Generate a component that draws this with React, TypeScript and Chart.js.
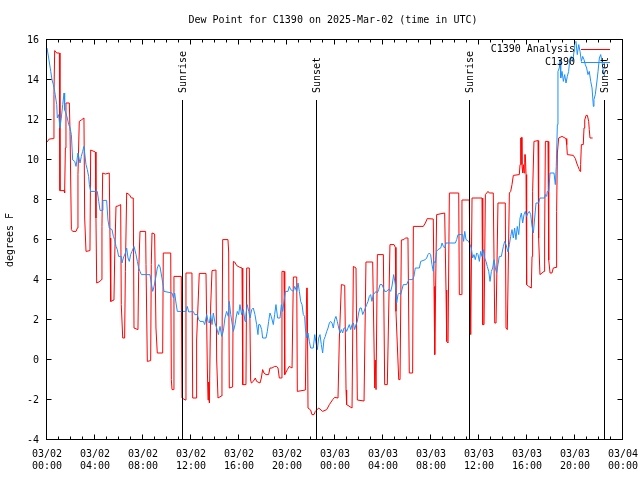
import React, { useEffect, useRef } from 'react';
import { Chart, registerables } from 'chart.js';

Chart.register(...registerables);

const TITLE = 'Dew Point for C1390 on 2025-Mar-02 (time in UTC)';
const Y_LABEL = 'degrees F';
const FONT_FAMILY = '"DejaVu Sans Mono", monospace';

const xTickDates = ['03/02', '03/02', '03/02', '03/02', '03/02', '03/02', '03/03', '03/03', '03/03', '03/03', '03/03', '03/03', '03/04'];
const xTickTimes = ['00:00', '04:00', '08:00', '12:00', '16:00', '20:00', '00:00', '04:00', '08:00', '12:00', '16:00', '20:00', '00:00'];

const Y_MIN = -4;
const Y_MAX = 16;
const Y_STEP = 2;
const X_MAX_HOURS = 48;

const eventHours = [11.37, 22.53, 35.28, 46.5];
const eventLabels = ['Sunrise', 'Sunset', 'Sunrise', 'Sunset'];

const ANALYSIS_LABEL = 'C1390 Analysis';
const STATION_LABEL = 'C1390';

// [hours since 03/02 00:00 UTC, dew point F]
const analysisSeries: [number, number][] = [
  [0, 10.9], [0.19, 11.05], [0.53, 11.07], [0.58, 13.27], [0.64, 15.47], [0.81, 15.35], [1.03, 15.35],
  [1.08, 8.47], [1.42, 8.47], [1.47, 8.35], [1.53, 10.6], [1.58, 12.85], [1.86, 12.85], [1.92, 11.43],
  [2.03, 6.52], [2.14, 6.43], [2.42, 6.43], [2.53, 6.6], [2.58, 9.27], [2.69, 11.93], [2.86, 12.0],
  [3.08, 12.1], [3.14, 7.1], [3.25, 5.43], [3.58, 5.47], [3.64, 10.5], [4.03, 10.4], [4.08, 7.1],
  [4.14, 3.85], [4.42, 3.93], [4.53, 4.02], [4.58, 6.68], [4.64, 9.35], [4.86, 9.3], [5.19, 9.35],
  [5.25, 6.1], [5.31, 2.93], [5.58, 3.0], [5.64, 5.1], [5.75, 7.68], [5.92, 7.7], [6.14, 7.77],
  [6.19, 2.77], [6.31, 1.1], [6.47, 1.1], [6.53, 4.43], [6.64, 8.35], [6.86, 8.27], [7.03, 8.1],
  [7.19, 8.1], [7.25, 1.6], [7.58, 1.52], [7.64, 4.43], [7.75, 6.43], [8.22, 6.43], [8.25, 4.77],
  [8.36, -0.07], [8.64, -0.03], [8.69, 4.77], [8.75, 6.35], [8.97, 6.3], [9.08, 1.6], [9.19, 0.35],
  [9.64, 0.35], [9.69, 5.35], [10.31, 5.35], [10.36, -0.98], [10.42, -1.48], [10.53, -1.48],
  [10.58, 4.18], [11.19, 4.18], [11.25, -1.9], [11.53, -2.0], [11.58, 4.35], [12.08, 4.35],
  [12.14, -1.9], [12.42, -1.9], [12.47, 1.0], [12.69, 4.33], [13.25, 4.33], [13.36, -0.4],
  [13.42, -2.0], [13.47, -1.1], [13.53, -2.15], [13.64, 2.7], [13.75, 4.47], [14.08, 4.5],
  [14.14, 0], [14.25, -1.9], [14.53, -1.8], [14.58, 0.1], [14.64, 6.02], [15.08, 6.02], [15.14, 5.4],
  [15.19, -1.4], [15.47, -1.35], [15.53, 4.93], [15.64, 4.9], [15.81, 4.72], [16.08, 4.63],
  [16.25, 4.6], [16.31, -1.23], [16.58, -1.23], [16.64, 4.6], [16.86, 4.6], [16.97, -1.0],
  [17.03, -1.15], [17.19, -1.07], [17.36, -0.9], [17.47, -1.07], [17.75, -1.15], [17.86, -0.9],
  [17.97, -0.48], [18.08, -0.65], [18.25, -0.73], [18.47, -0.73], [18.58, -0.4], [18.75, -0.4],
  [18.97, -0.32], [19.14, -0.32], [19.25, -0.4], [19.36, -0.9], [19.53, -0.9], [19.58, 4.43],
  [19.75, 4.43], [19.81, -0.73], [20.03, -0.48], [20.19, -0.32], [20.42, -0.4], [20.53, 4.15],
  [20.81, 4.15], [20.86, -1.57], [21.53, -1.5], [21.64, 3.6], [21.69, 3.6], [21.75, -2.4],
  [21.97, -2.5], [22.08, -2.73], [22.25, -2.73], [22.36, -2.57], [22.64, -2.4], [22.97, -2.57],
  [23.31, -2.48], [23.53, -2.23], [23.81, -1.98], [23.97, -1.87], [24.25, -1.9], [24.36, 1.0],
  [24.53, 3.77], [24.81, 3.73], [24.92, -1.5], [24.97, -2.23], [25.42, -2.4], [25.53, 4.68],
  [25.75, 4.6], [25.86, -2.0], [26.42, -2.05], [26.58, 4.9], [27.14, 4.9], [27.31, -1.4],
  [27.36, 0.0], [27.42, -1.48], [27.53, 5.27], [28.03, 5.27], [28.14, -1.23], [28.36, -1.23],
  [28.58, 5.77], [28.92, 5.77], [29.03, 5.63], [29.08, 2.43], [29.31, -0.98], [29.42, -0.98],
  [29.53, 6.0], [29.75, 6.02], [29.86, 6.1], [30.08, 6.1], [30.19, -0.65], [30.47, -0.65],
  [30.53, 6.68], [31.36, 6.68], [31.53, 6.85], [31.69, 7.07], [32.19, 7.05], [32.25, 3.68],
  [32.31, 0.27], [32.36, 2.5], [32.47, 7.27], [33.14, 7.35], [33.25, 3.5], [33.31, 0.93],
  [33.42, 0.85], [33.53, 8.35], [34.31, 8.35], [34.36, 3.27], [34.53, 3.27], [34.58, 8.0],
  [35.19, 8.0], [35.31, 1.27], [35.42, 8.1], [36.25, 8.1], [36.31, 1.77], [36.42, 1.77],
  [36.53, 8.27], [36.75, 8.43], [36.86, 8.35], [37.19, 8.35], [37.31, 1.85], [37.42, 1.85],
  [37.58, 7.85], [38.19, 7.85], [38.25, 1.6], [38.36, 1.52], [38.53, 8.35], [38.64, 8.43],
  [38.75, 8.77], [38.86, 9.23], [39.36, 9.27], [39.42, 9.77], [39.47, 11.1], [39.53, 11.13],
  [39.58, 9.77], [39.64, 9.35], [39.69, 9.77], [39.75, 9.35], [39.81, 10.27], [39.86, 10.27],
  [39.92, 9.27], [39.97, 3.77], [40.14, 3.68], [40.36, 3.6], [40.42, 5.18], [40.47, 8.43],
  [40.58, 10.93], [40.92, 10.97], [40.97, 6.1], [41.08, 4.27], [41.42, 4.43], [41.47, 6.1],
  [41.53, 10.93], [41.75, 10.93], [41.81, 5.0], [41.92, 4.35], [42.08, 4.35], [42.19, 4.6],
  [42.42, 4.63], [42.47, 7.43], [42.53, 10.35], [42.64, 11.1], [42.92, 11.18], [43.25, 11.07],
  [43.31, 10.77], [43.36, 10.27], [43.86, 10.23], [44.03, 10.07], [44.14, 9.85], [44.25, 9.68],
  [44.36, 9.52], [44.42, 9.43], [44.47, 9.77], [44.53, 10.77], [44.69, 10.77], [44.75, 11.6],
  [44.81, 12.0], [44.92, 12.23], [45.03, 12.23], [45.14, 11.93], [45.19, 11.52], [45.25, 11.1],
  [45.47, 11.1],
];

const stationSeries: [number, number][] = [
  [0, 15.6], [0.14, 15.1], [0.31, 14.43], [0.42, 14.0], [0.53, 13.77], [0.64, 13.43], [0.81, 12.77],
  [0.86, 12.1], [0.97, 12.27], [1.08, 11.6], [1.19, 12.1], [1.31, 12.77], [1.42, 13.35], [1.47, 12.5],
  [1.58, 12.35], [1.69, 12.1], [1.81, 11.77], [1.92, 11.6], [2.03, 11.27], [2.14, 10.0], [2.31, 9.93],
  [2.42, 9.68], [2.58, 10.35], [2.75, 9.85], [2.86, 10.18], [2.97, 10.43], [3.08, 10.68], [3.14, 10.35],
  [3.25, 9.77], [3.36, 9.52], [3.47, 9.18], [3.53, 8.77], [3.64, 8.43], [4.19, 8.43], [4.31, 7.93],
  [4.42, 7.48], [4.64, 7.48], [4.66, 7.98], [4.97, 7.98], [5.08, 7.0], [5.19, 6.6], [5.42, 6.52],
  [5.53, 6.18], [5.64, 6.02], [5.75, 5.68], [5.86, 5.52], [5.97, 5.18], [6.19, 5.18], [6.25, 4.85],
  [6.36, 5.1], [6.53, 5.35], [6.64, 5.6], [6.75, 5.1], [6.86, 4.93], [6.97, 5.27], [7.08, 5.43],
  [7.25, 5.68], [7.42, 5.27], [7.53, 4.93], [7.64, 4.6], [7.75, 4.43], [7.86, 4.27], [8.58, 4.27],
  [8.69, 3.85], [8.81, 3.43], [8.92, 3.68], [9.08, 4.18], [9.19, 4.6], [9.31, 4.77], [9.42, 4.65],
  [9.58, 4.1], [9.69, 3.68], [9.75, 3.43], [10.42, 3.35], [10.53, 3.1], [10.64, 3.35], [10.75, 2.85],
  [10.86, 2.43], [11.58, 2.43], [11.69, 2.68], [11.81, 2.4], [12.19, 2.43], [12.31, 2.27], [12.53, 2.27],
  [12.64, 2.02], [12.75, 1.93], [13.03, 1.93], [13.14, 1.77], [13.31, 2.27], [13.42, 1.93], [13.53, 1.85],
  [13.64, 2.27], [13.75, 1.77], [13.86, 2.35], [14.0, 1.85], [14.14, 1.6], [14.28, 1.27], [14.42, 1.68],
  [14.56, 1.18], [14.69, 1.43], [14.83, 2.1], [14.97, 2.43], [15.11, 2.18], [15.19, 2.93], [15.31, 2.27],
  [15.42, 1.85], [15.53, 1.43], [15.67, 1.77], [15.75, 2.1], [15.86, 2.43], [15.97, 2.27], [16.08, 2.77],
  [16.22, 2.27], [16.36, 2.52], [16.5, 1.93], [16.58, 2.27], [16.69, 2.77], [16.81, 2.43], [16.92, 2.1],
  [17.06, 2.52], [17.19, 2.6], [17.33, 2.27], [17.47, 1.77], [17.58, 1.27], [17.64, 1.77], [17.75, 1.77],
  [17.89, 1.52], [17.97, 1.1], [18.25, 1.1], [18.36, 1.43], [18.47, 1.93], [18.58, 2.35], [18.69, 2.18],
  [18.86, 1.77], [18.97, 2.27], [19.08, 2.77], [19.22, 2.1], [19.42, 2.1], [19.53, 2.77], [19.64, 2.43],
  [19.75, 2.93], [19.86, 3.43], [20.08, 3.43], [20.19, 3.68], [20.31, 3.52], [20.53, 3.43], [20.64, 3.68],
  [20.81, 3.43], [20.92, 3.85], [21.03, 3.43], [21.14, 2.93], [21.25, 2.77], [21.36, 2.27], [21.47, 2.18],
  [21.53, 1.6], [21.64, 1.1], [21.75, 1.35], [21.86, 0.93], [21.97, 0.6], [22.19, 0.6], [22.31, 1.27],
  [22.42, 0.85], [22.53, 0.52], [22.64, 1.1], [22.75, 1.27], [22.86, 0.77], [22.97, 0.35], [23.08, 1.02],
  [23.19, 1.18], [23.31, 1.43], [23.42, 1.6], [23.53, 1.85], [23.64, 1.93], [23.75, 1.85], [23.86, 1.6],
  [23.97, 2.02], [24.08, 2.18], [24.19, 1.93], [24.31, 1.6], [24.42, 1.35], [24.53, 1.52], [24.64, 1.35],
  [24.75, 1.6], [24.86, 1.6], [24.97, 1.43], [25.08, 1.6], [25.19, 1.77], [25.31, 1.52], [25.42, 1.77],
  [25.53, 1.85], [25.64, 1.52], [25.75, 1.77], [25.86, 1.93], [25.97, 2.35], [26.08, 2.6], [26.19, 2.6],
  [26.31, 2.27], [26.42, 2.43], [26.53, 2.6], [26.64, 2.77], [26.75, 2.93], [26.86, 3.18], [26.97, 3.27],
  [27.08, 2.93], [27.19, 3.27], [27.31, 3.35], [27.42, 3.43], [27.53, 3.35], [27.64, 3.52], [27.75, 3.77],
  [27.92, 3.77], [28.03, 3.6], [28.14, 3.43], [28.31, 3.43], [28.42, 3.52], [28.53, 3.52], [28.64, 3.43],
  [28.75, 3.7], [28.89, 4.27], [29.03, 3.77], [29.14, 2.85], [29.25, 3.27], [29.36, 3.35], [29.47, 3.27],
  [29.58, 3.52], [29.69, 3.77], [29.97, 3.77], [30.08, 3.93], [30.19, 4.02], [30.47, 4.02], [30.58, 4.18],
  [30.69, 4.6], [31.03, 4.6], [31.14, 4.93], [31.53, 5.02], [31.64, 5.1], [31.75, 5.27], [31.86, 5.35],
  [31.97, 5.27], [32.08, 4.77], [32.19, 4.43], [32.25, 4.93], [32.36, 4.85], [32.47, 5.43], [32.58, 5.52],
  [32.81, 5.6], [32.92, 5.85], [33.03, 5.68], [33.14, 5.6], [33.25, 5.85], [34.03, 5.85], [34.14, 6.02],
  [34.25, 6.27], [34.64, 6.27], [34.72, 5.93], [34.81, 6.43], [34.92, 6.02], [35.14, 5.93], [35.25, 5.77],
  [35.36, 5.6], [35.47, 5.1], [35.58, 5.27], [35.69, 5.02], [35.81, 5.35], [35.92, 5.27], [36.03, 4.93],
  [36.14, 5.43], [36.25, 5.18], [36.36, 5.52], [36.47, 5.1], [36.58, 4.93], [36.69, 4.68], [36.81, 4.43],
  [36.92, 3.93], [37.03, 4.43], [37.14, 4.6], [37.25, 5.02], [37.36, 4.6], [37.47, 4.35], [37.58, 4.77],
  [37.69, 5.18], [37.86, 5.18], [38.03, 5.68], [38.14, 5.93], [38.25, 5.77], [38.42, 5.4], [38.53, 5.77],
  [38.64, 6.18], [38.75, 6.52], [38.86, 6.1], [38.97, 6.6], [39.08, 6.02], [39.19, 6.68], [39.31, 6.27],
  [39.42, 7.1], [39.53, 7.35], [39.64, 6.85], [39.75, 7.27], [39.86, 7.43], [39.97, 7.18], [40.08, 7.35],
  [40.19, 7.43], [40.31, 7.27], [40.42, 6.68], [40.53, 6.35], [40.64, 7.1], [40.75, 7.85], [40.97, 7.85],
  [41.08, 8.1], [41.47, 8.1], [41.53, 8.27], [41.64, 8.18], [41.69, 8.43], [41.81, 8.43], [41.92, 9.35],
  [42.25, 9.35], [42.36, 8.77], [42.44, 9.68], [42.53, 11.77], [42.58, 14.43], [42.69, 14.6], [42.75, 15.02],
  [42.81, 14.1], [42.92, 14.43], [43.03, 13.93], [43.14, 14.27], [43.25, 13.85], [43.36, 14.18], [43.47, 14.43],
  [43.58, 15.1], [43.69, 15.18], [43.81, 14.93], [43.92, 15.43], [43.97, 15.85], [44.08, 15.93], [44.19, 15.27],
  [44.31, 15.77], [44.42, 15.43], [44.53, 14.93], [44.64, 15.18], [44.75, 15.02], [44.86, 14.77], [44.97, 14.6],
  [45.08, 14.27], [45.19, 14.43], [45.31, 13.93], [45.42, 13.6], [45.53, 12.68], [45.58, 13.02], [45.69, 13.27],
  [45.81, 13.85], [45.92, 14.43], [46.03, 15.1], [46.14, 15.27], [46.25, 14.93], [46.36, 14.43], [46.47, 14.18],
];

const RED = '#ff0000';
const BLUE = '#1e90ff';

const font = (size: number) => `${size}px ${FONT_FAMILY}`;

const decorPlugin = {
  id: 'gnuplotDecor',
  afterDatasetsDraw(chart: any) {
    const { ctx, chartArea: a, scales } = chart;
    const xs = scales.x;
    const ys = scales.y;
    ctx.save();
    ctx.strokeStyle = '#000';
    ctx.fillStyle = '#000';
    ctx.lineWidth = 1;

    // sunrise / sunset markers
    ctx.font = font(10);
    eventHours.forEach((h, i) => {
      const px = Math.round(xs.getPixelForValue(h)) - 0.5;
      ctx.beginPath();
      ctx.moveTo(px, a.top + 60);
      ctx.lineTo(px, a.bottom);
      ctx.stroke();
      ctx.save();
      ctx.translate(px + 1, a.top + 53);
      ctx.rotate(-Math.PI / 2);
      ctx.textAlign = 'left';
      ctx.textBaseline = 'middle';
      ctx.fillText(eventLabels[i], 0, 0);
      ctx.restore();
    });

    // frame
    ctx.strokeRect(a.left - 0.5, a.top - 0.5, a.right - a.left, a.bottom - a.top);

    // x ticks (hourly minor, 4-hourly major), bottom and top
    ctx.beginPath();
    for (let h = 0; h <= X_MAX_HOURS; h++) {
      const px = Math.round(xs.getPixelForValue(h)) - 0.5;
      const len = h % 4 === 0 ? 5 : 3;
      ctx.moveTo(px, a.bottom - 0.5);
      ctx.lineTo(px, a.bottom - 0.5 - len);
      ctx.moveTo(px, a.top - 0.5);
      ctx.lineTo(px, a.top - 0.5 + len);
    }
    // y ticks, left and right
    for (let v = Y_MIN; v <= Y_MAX; v += Y_STEP) {
      const py = Math.round(ys.getPixelForValue(v)) - 0.5;
      ctx.moveTo(a.left - 0.5, py);
      ctx.lineTo(a.left - 0.5 + 5, py);
      ctx.moveTo(a.right - 0.5, py);
      ctx.lineTo(a.right - 0.5 - 5, py);
    }
    ctx.stroke();

    // legend (top right, inside plot)
    const textRight = a.right - 48;
    const lineStart = a.right - 42;
    const lineEnd = a.right - 13;
    chart.data.datasets.forEach((ds: any, i: number) => {
      const yRow = a.top + 9.5 + i * 13;
      ctx.fillStyle = '#000';
      ctx.textAlign = 'right';
      ctx.textBaseline = 'middle';
      ctx.font = font(10);
      ctx.fillText(ds.label, textRight, yRow);
      ctx.strokeStyle = ds.borderColor;
      ctx.beginPath();
      ctx.moveTo(lineStart, yRow);
      ctx.lineTo(lineEnd, yRow);
      ctx.stroke();
    });

    // title and y axis label
    ctx.fillStyle = '#000';
    ctx.font = font(10);
    ctx.textAlign = 'center';
    ctx.textBaseline = 'middle';
    ctx.fillText(TITLE, 333, 20);
    ctx.save();
    ctx.translate(10, (a.top + a.bottom) / 2);
    ctx.rotate(-Math.PI / 2);
    ctx.fillText(Y_LABEL, 0, 0);
    ctx.restore();

    ctx.restore();
  },
};

export default function App() {
  const canvasRef = useRef<HTMLCanvasElement | null>(null);

  useEffect(() => {
    if (!canvasRef.current) return;
    const chart = new Chart(canvasRef.current, {
      type: 'line',
      data: {
        datasets: [
          {
            label: ANALYSIS_LABEL,
            data: analysisSeries.map(([h, v]) => ({ x: h, y: v })),
            borderColor: RED,
            backgroundColor: RED,
            borderWidth: 1,
            pointRadius: 0,
            tension: 0,
            fill: false,
            order: 1,
          },
          {
            label: STATION_LABEL,
            data: stationSeries.map(([h, v]) => ({ x: h, y: v })),
            borderColor: BLUE,
            backgroundColor: BLUE,
            borderWidth: 1,
            pointRadius: 0,
            tension: 0,
            fill: false,
            order: 0,
          },
        ],
      },
      options: {
        animation: false,
        responsive: false,
        devicePixelRatio: 1,
        layout: { padding: { top: 40, right: 17, bottom: 0, left: 0 } },
        plugins: {
          legend: { display: false },
          title: { display: false },
          tooltip: { enabled: false },
        },
        events: [],
        scales: {
          x: {
            type: 'linear',
            min: 0,
            max: X_MAX_HOURS,
            grid: { display: false, drawTicks: false, tickLength: 0 },
            border: { display: false },
            ticks: {
              stepSize: 4,
              autoSkip: false,
              maxRotation: 0,
              minRotation: 0,
              padding: 8,
              color: '#000',
              font: { family: FONT_FAMILY, size: 10, lineHeight: 1.2 },
              callback: (v: any) => {
                const i = Math.round(Number(v) / 4);
                return [xTickDates[i], xTickTimes[i]];
              },
            },
            afterFit: (s: any) => {
              s.height = 40;
              s.paddingLeft = 0;
              s.paddingRight = 0;
            },
          },
          y: {
            type: 'linear',
            min: Y_MIN,
            max: Y_MAX,
            grid: { display: false, drawTicks: false, tickLength: 0 },
            border: { display: false },
            ticks: {
              stepSize: Y_STEP,
              padding: 8,
              color: '#000',
              font: { family: FONT_FAMILY, size: 10 },
              callback: (v: any) => String(v),
            },
            afterFit: (s: any) => {
              s.width = 47;
              s.paddingTop = 0;
              s.paddingBottom = 0;
            },
          },
        },
      },
      plugins: [decorPlugin],
    } as any);
    return () => chart.destroy();
  }, []);

  return (
    <div style={{ position: 'absolute', left: 0, top: 0, width: 640, height: 480, background: '#fff' }}>
      <canvas ref={canvasRef} width={640} height={480} style={{ display: 'block' }} />
    </div>
  );
}
